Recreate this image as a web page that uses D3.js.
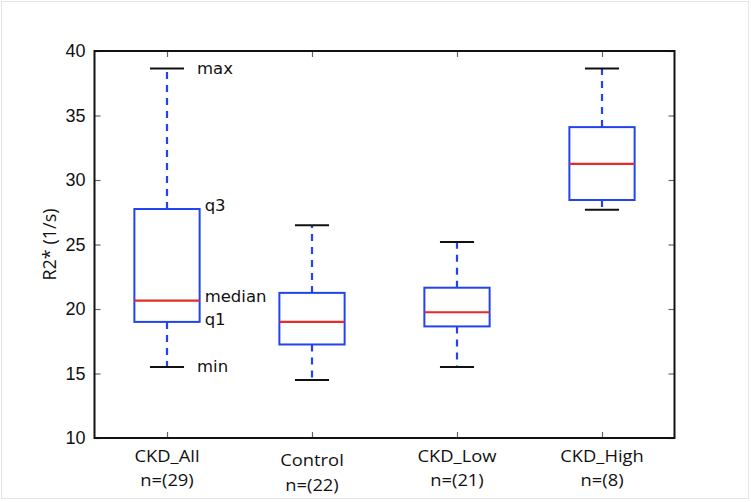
<!DOCTYPE html>
<html><head><meta charset="utf-8">
<script src="https://cdn.jsdelivr.net/npm/d3@7"></script>
<style>
html,body{margin:0;padding:0;background:#fff;}
svg{display:block;}
</style></head>
<body>
<svg id="chart" width="751" height="502"></svg>
<script>
const categories = ["CKD_All", "Control", "CKD_Low", "CKD_High"];
const counts = ["n=(29)", "n=(22)", "n=(21)", "n=(8)"];
const mins    = [15.5, 14.5, 15.5, 27.7];
const q1s     = [19.0, 17.25, 18.65, 28.45];
const medians = [20.65, 19.0, 19.75, 31.25];
const q3s     = [27.75, 21.25, 21.65, 34.1];
const maxs    = [38.65, 26.5, 25.2, 38.65];
const yTicks  = [10, 15, 20, 25, 30, 35, 40];
const annotations = [
  {text: "max", key: "max"},
  {text: "q3", key: "q3"},
  {text: "median", key: "median"},
  {text: "q1", key: "q1"},
  {text: "min", key: "min"}
];

(function () {
const svg = d3.select("#chart");
const mLeft = 94.5, mRight = 674.5, mTop = 51, mBottom = 438;

svg.append("rect").attr("x", 1.5).attr("y", 1.5).attr("width", 747).attr("height", 497)
  .attr("fill", "none").attr("stroke", "#e4e4e4").attr("stroke-width", 1);

const x = d3.scaleLinear().domain([0.5, 4.5]).range([mLeft, mRight]);
const y = d3.scaleLinear().domain([10, 40]).range([mBottom, mTop]);

const boxW = 0.45, capW = 0.235;
const blue = "#2343ee", red = "#e62a2a";

const data = categories.map((c, i) => ({
  c, n: counts[i], pos: i + 1,
  min: mins[i], q1: q1s[i], median: medians[i], q3: q3s[i], max: maxs[i]
}));

const g = svg.append("g");

const yLeft = d3.axisLeft(y).tickValues(yTicks).tickSize(-6).tickPadding(9).tickFormat(d3.format("d"));
const yRight = d3.axisRight(y).tickValues(yTicks).tickSize(-6).tickFormat("");
const xBottom = d3.axisBottom(x).tickValues(data.map(d => d.pos)).tickSize(-6).tickFormat("");
const xTop = d3.axisTop(x).tickValues(data.map(d => d.pos)).tickSize(-6).tickFormat("");

const gl = g.append("g").attr("transform", `translate(${mLeft},0)`).call(yLeft);
gl.selectAll("text").attr("font-family", "Liberation Sans, Arial, sans-serif").attr("font-size", 18).attr("fill", "#111");
g.append("g").attr("transform", `translate(${mRight},0)`).call(yRight);
g.append("g").attr("transform", `translate(0,${mBottom})`).call(xBottom);
g.append("g").attr("transform", `translate(0,${mTop})`).call(xTop);
g.selectAll(".domain").remove();
g.selectAll(".tick line").attr("stroke", "#666").attr("stroke-width", 1.2);

const bx = g.append("g").selectAll("g").data(data).join("g");
bx.append("line").attr("x1", d => x(d.pos)).attr("x2", d => x(d.pos))
  .attr("y1", d => y(d.q3)).attr("y2", d => y(d.max))
  .attr("stroke", blue).attr("stroke-width", 2.2).attr("stroke-dasharray", "7,6");
bx.append("line").attr("x1", d => x(d.pos)).attr("x2", d => x(d.pos))
  .attr("y1", d => y(d.q1)).attr("y2", d => y(d.min))
  .attr("stroke", blue).attr("stroke-width", 2.2).attr("stroke-dasharray", "7,6");
["max", "min"].forEach(k => {
  bx.append("line").attr("x1", d => x(d.pos - capW / 2)).attr("x2", d => x(d.pos + capW / 2))
    .attr("y1", d => y(d[k])).attr("y2", d => y(d[k]))
    .attr("stroke", "#111").attr("stroke-width", 2);
});
bx.append("rect").attr("x", d => x(d.pos - boxW / 2)).attr("width", d => x(d.pos + boxW / 2) - x(d.pos - boxW / 2))
  .attr("y", d => y(d.q3)).attr("height", d => y(d.q1) - y(d.q3))
  .attr("fill", "none").attr("stroke", blue).attr("stroke-width", 2);
bx.append("line").attr("x1", d => x(d.pos - boxW / 2)).attr("x2", d => x(d.pos + boxW / 2))
  .attr("y1", d => y(d.median)).attr("y2", d => y(d.median))
  .attr("stroke", red).attr("stroke-width", 2.2);

g.append("rect").attr("x", mLeft).attr("y", mTop).attr("width", mRight - mLeft).attr("height", mBottom - mTop)
  .attr("fill", "none").attr("stroke", "#111").attr("stroke-width", 2);

const d0 = data[0];
const annX = {max: x(d0.pos + capW / 2) + 13, min: x(d0.pos + capW / 2) + 13,
  q3: x(d0.pos + boxW / 2) + 5, median: x(d0.pos + boxW / 2) + 5, q1: x(d0.pos + boxW / 2) + 5};
const annDy = {max: 0, min: -1, q3: -4, median: -4, q1: -3};
g.append("g").selectAll("text").data(annotations).join("text")
  .attr("x", a => annX[a.key]).attr("y", a => y(d0[a.key]) + annDy[a.key])
  .attr("dy", "0.35em")
  .attr("font-family", "DejaVu Sans, sans-serif").attr("font-size", 16.5).attr("fill", "#111")
  .text(a => a.text);

const xl = g.append("g").selectAll("g").data(data).join("g");
xl.append("text").attr("transform", (d, i) => `translate(${x(d.pos)},${i === 1 ? 466 : 461.5}) scale(1.08,1)`)
  .attr("text-anchor", "middle")
  .attr("font-family", "Open Sans, sans-serif").attr("font-size", 17).attr("fill", "#111")
  .text(d => d.c);
xl.append("text").attr("transform", (d, i) => `translate(${x(d.pos)},${i === 1 ? 490.5 : 485.5}) scale(1.08,1)`)
  .attr("text-anchor", "middle")
  .attr("font-family", "Open Sans, sans-serif").attr("font-size", 17).attr("fill", "#111")
  .text(d => d.n);

g.append("text").attr("transform", `translate(56,${(mTop + mBottom) / 2}) rotate(-90)`).attr("text-anchor", "middle")
  .attr("font-family", "Open Sans, sans-serif").attr("font-size", 18).attr("fill", "#111")
  .text("R2* (1/s)");
})();
</script>
</body></html>
